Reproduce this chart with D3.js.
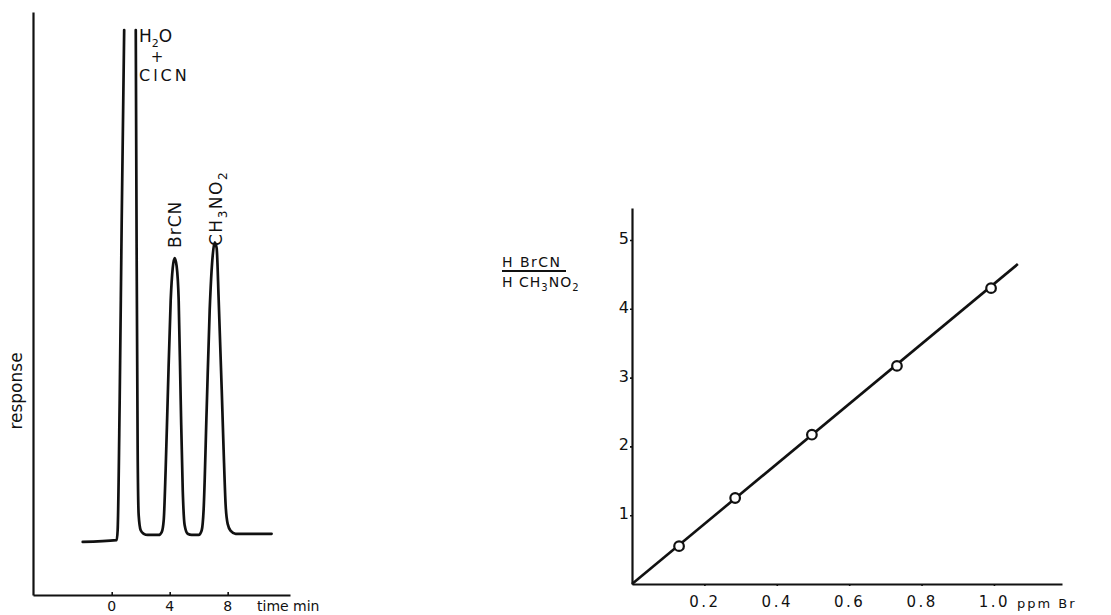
<!DOCTYPE html>
<html>
<head>
<meta charset="utf-8">
<script src="https://cdn.jsdelivr.net/npm/d3@7"></script>
<style>
  html, body { margin: 0; padding: 0; background: #fff; }
  svg { display: block; font-family: "DejaVu Sans", sans-serif; }
  text { fill: #111; }
</style>
</head>
<body>
<svg id="chart" width="1111" height="615"></svg>
<script>
// ---- Left panel: chromatogram (time in min, response in arbitrary units) ----
const traceTime = [-2.0, 0.34, 0.41, 0.55, 0.69, 0.86, null,
  1.66, 1.72, 1.79, 1.86, 2.0, 2.21, 2.48, 3.24, 3.45, 3.59, 3.72, 3.86, 4.07, 4.21, 4.34,
  4.48, 4.62, 4.76, 4.9, 5.03, 5.24, 5.52, 6.0, 6.21, 6.34, 6.55, 6.76, 6.97, 7.1,
  7.24, 7.38, 7.59, 7.72, 7.86, 8.0, 8.21, 8.55, 9.52, 11.03];
const traceResp = [9.1, 9.4, 11.1, 33.4, 64.3, 96.9, null,
  96.9, 59.2, 24.9, 13.7, 11.1, 10.5, 10.3, 10.3, 10.8, 12.9, 21.4, 33.4, 50.6, 56.1, 57.8,
  56.4, 50.6, 33.4, 18.0, 12.0, 10.5, 10.3, 10.3, 11.1, 14.6, 31.7, 48.9, 58.3, 60.5,
  59.5, 50.6, 35.2, 24.9, 15.4, 12.2, 11.0, 10.5, 10.5, 10.5];
const timeTicks = [0, 4, 8];

// ---- Right panel: calibration ----
const ppmBr = [0.13, 0.285, 0.497, 0.732, 0.992];
const ratio = [0.55, 1.25, 2.17, 3.17, 4.30];
const fitPpm = [0, 1.066];
const fitRatio = [0, 4.65];
const ppmTicks = [0.2, 0.4, 0.6, 0.8, 1.0];
const ratioTicks = [1, 2, 3, 4, 5];

const svg = d3.select("#chart");
const ink = "#111";

function styleAxis(g, size, spacing) {
  g.attr("font-size", size).attr("font-family", "DejaVu Sans");
  g.select(".domain").attr("stroke", ink).attr("stroke-width", 2.2);
  g.selectAll(".tick line").attr("stroke", ink).attr("stroke-width", 1.6);
  g.selectAll(".tick text").attr("fill", ink)
    .style("font-size", size + "px").style("letter-spacing", spacing + "px");
}

// ===== Left chart =====
const xT = d3.scaleLinear().domain([-5.43, 12.3]).range([33, 290]);
const yR = d3.scaleLinear().domain([0, 100]).range([595, 12]);

const gLx = svg.append("g").attr("transform", "translate(0,595)")
  .call(d3.axisBottom(xT).tickValues(timeTicks).tickFormat(d3.format("d"))
    .tickSizeInner(-3).tickSizeOuter(0).tickPadding(6));
const gLy = svg.append("g").attr("transform", "translate(33,0)")
  .call(d3.axisLeft(yR).tickValues([]).tickSizeOuter(0));
styleAxis(gLx, 14, 1);
styleAxis(gLy, 14, 0);

const traceData = traceTime.map((t, i) => ({t, r: traceResp[i]}));
svg.append("path")
  .datum(traceData)
  .attr("fill", "none").attr("stroke", ink).attr("stroke-width", 2.7)
  .attr("stroke-linejoin", "round").attr("stroke-linecap", "round")
  .attr("d", d3.line().defined(d => d.t !== null)
    .x(d => xT(d.t)).y(d => yR(d.r)).curve(d3.curveMonotoneX));

svg.append("text").attr("x", 257).attr("y", 611)
  .style("font-size", "14px").text("time min");

svg.append("text")
  .attr("transform", "translate(22,391) rotate(-90)")
  .attr("text-anchor", "middle").style("font-size", "17px").text("response");

// peak labels
const h2o = svg.append("text").attr("x", 139).attr("y", 42).style("font-size", "17px");
h2o.append("tspan").text("H");
h2o.append("tspan").attr("dy", 5).style("font-size", "11px").text("2");
h2o.append("tspan").attr("dy", -5).text("O");
svg.append("text").attr("x", 157).attr("y", 62).attr("text-anchor", "middle")
  .style("font-size", "15px").text("+");
svg.append("text").attr("x", 139).attr("y", 81).style("font-size", "16px")
  .style("letter-spacing", "3px").text("ClCN");

svg.append("text").attr("transform", "translate(181,248) rotate(-90)")
  .style("font-size", "17px").style("letter-spacing", "1px").text("BrCN");
const ch = svg.append("text").attr("transform", "translate(222,246) rotate(-90)")
  .style("font-size", "17px").style("letter-spacing", "1.5px");
ch.append("tspan").text("CH");
ch.append("tspan").attr("dy", 5).style("font-size", "12px").text("3");
ch.append("tspan").attr("dy", -5).text("NO");
ch.append("tspan").attr("dy", 5).style("font-size", "12px").text("2");

// ===== Right chart =====
const xP = d3.scaleLinear().domain([0, 1.188]).range([632, 1062]);
const yQ = d3.scaleLinear().domain([0, 5.465]).range([584, 208]);

const gRx = svg.append("g").attr("transform", "translate(0,584)")
  .call(d3.axisBottom(xP).tickValues(ppmTicks).tickFormat(d3.format(".1f"))
    .tickSizeInner(2).tickSizeOuter(0).tickPadding(10));
const gRy = svg.append("g").attr("transform", "translate(632,0)")
  .call(d3.axisLeft(yQ).tickValues(ratioTicks).tickFormat(d3.format("d"))
    .tickSizeInner(2).tickSizeOuter(0).tickPadding(1));
styleAxis(gRx, 15, 2.5);
styleAxis(gRy, 16, 0);
gRy.selectAll(".tick text").attr("dy", "0.22em");

svg.append("text").attr("x", 1017).attr("y", 608)
  .style("font-size", "13px").style("letter-spacing", "2px").text("ppm Br");

// fit line
svg.append("path")
  .datum(fitPpm.map((p, i) => ({p, q: fitRatio[i]})))
  .attr("fill", "none").attr("stroke", ink).attr("stroke-width", 2.6)
  .attr("stroke-linecap", "butt")
  .attr("d", d3.line().x(d => xP(d.p)).y(d => yQ(d.q)));

// points
svg.append("g").selectAll("circle")
  .data(ppmBr.map((p, i) => ({p, q: ratio[i]})))
  .join("circle")
  .attr("cx", d => xP(d.p)).attr("cy", d => yQ(d.q)).attr("r", 4.8)
  .attr("fill", "#fff").attr("stroke", ink).attr("stroke-width", 2.2);

// y label fraction
svg.append("text").attr("x", 502).attr("y", 267)
  .style("font-size", "14px").style("letter-spacing", "1.5px").text("H BrCN");
svg.append("line").attr("x1", 502).attr("x2", 566).attr("y1", 271).attr("y2", 271)
  .attr("stroke", ink).attr("stroke-width", 1.8);
const den = svg.append("text").attr("x", 502).attr("y", 287)
  .style("font-size", "14px").style("letter-spacing", "1px");
den.append("tspan").text("H CH");
den.append("tspan").attr("dy", 4).style("font-size", "10px").text("3");
den.append("tspan").attr("dy", -4).text("NO");
den.append("tspan").attr("dy", 4).style("font-size", "10px").text("2");
</script>
</body>
</html>
